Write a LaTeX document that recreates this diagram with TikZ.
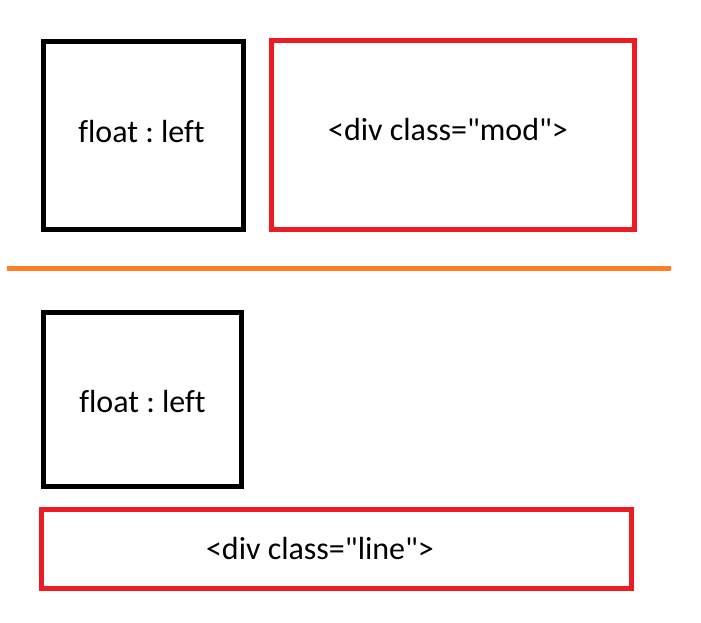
\documentclass[tikz,border=0pt]{standalone}
\usepackage{fontspec}
\setmainfont{Carlito}[Ligatures={TeXOff,NoCommon}]
\frenchspacing
\definecolor{pred}{HTML}{ED1C24}
\definecolor{porange}{HTML}{FF7F27}
\begin{document}
\begin{tikzpicture}[x=1pt,y=-1pt,
  boxstyle/.style={draw, line width=5pt, inner sep=0pt, outer sep=0pt, anchor=north west},
  blackbox/.style={boxstyle, draw=black},
  redbox/.style={boxstyle, draw=pred},
  lbl/.style={anchor=base, inner sep=0pt, font=\fontsize{32}{38}\selectfont}]
\useasboundingbox (0,0) rectangle (701,622);
\fill[white] (0,0) rectangle (701,622);
\node[blackbox, minimum width=200pt, minimum height=188pt] (b1) at (43.5,41.5) {};
\node[redbox, minimum width=362.5pt, minimum height=189.3pt] (b2) at (271.5,40.5) {};
\coordinate (l1) at (6.5,268);
\coordinate (l2) at (670.5,268);
\draw[porange, line width=5pt] (l1) -- (l2);
\node[blackbox, minimum width=198pt, minimum height=174.5pt] (b3) at (43.5,312) {};
\node[redbox, minimum width=589.5pt, minimum height=78.5pt] (b4) at (41.5,509.5) {};
\node[lbl] (t1) at (141.5,142.7) {float : left};
\node[lbl] (t2) at (448,140.7) {<div class="mod">};
\node[lbl] (t3) at (142.5,412) {float : left};
\node[lbl] (t4) at (320,559) {<div class="line">};
\end{tikzpicture}
\end{document}
